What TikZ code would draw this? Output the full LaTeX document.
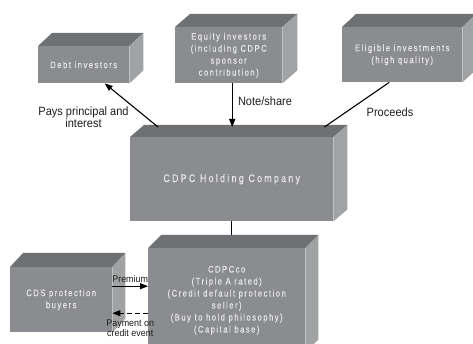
\documentclass[tikz,border=0pt]{standalone}
\usepackage{fontspec}
\setmainfont{Liberation Sans}
\newfontfamily\boxfont[FakeStretch=0.8,LetterSpace=16,FakeBold=0.3]{Liberation Sans}
\newfontfamily\bigboxfont[FakeStretch=0.8,LetterSpace=21,FakeBold=0.3]{Liberation Sans}
\newfontfamily\labfont[FakeStretch=0.92]{Liberation Sans}
\usetikzlibrary{arrows.meta}
\definecolor{frontc}{RGB}{139,140,143}
\definecolor{topc}{RGB}{111,112,115}
\definecolor{sidec}{RGB}{161,162,164}
\definecolor{boxtext}{RGB}{232,232,232}
\definecolor{labtext}{RGB}{30,30,30}
\tikzset{
  front/.style={fill=frontc, inner sep=0pt, align=center, text=boxtext,
    font=\boxfont\fontsize{9.5}{12}\selectfont},
  lab/.style={text=labtext, align=center, inner sep=0pt,
    font=\labfont\fontsize{12}{12}\selectfont},
  smalllab/.style={text=labtext, align=center, inner sep=0pt,
    font=\labfont\fontsize{9.7}{10}\selectfont},
  conn/.style={line width=1.1pt, draw=black},
  tip/.style={-{Triangle[length=8pt,width=6pt]}},
}
\newcommand\cuboid[8]{%
  \node[front, anchor=north west, minimum width=#4pt, minimum height=#5pt] (#1) at (#2,#3) {#8};
  \fill[topc] (#1.north west) -- (#1.north east) -- ++(#6,-#7)
     -- ([shift={(#6,-#7)}]#1.north west) -- cycle;
  \fill[sidec] (#1.north east) -- ++(#6,-#7)
     -- ([shift={(#6,-#7)}]#1.south east) -- (#1.south east) -- cycle;
}
\begin{document}
\begin{tikzpicture}[x=1pt,y=-1pt]
\useasboundingbox[fill=white] (0,0) rectangle (473,344);
% boxes
\cuboid{debt}{38}{46}{91}{37}{14}{13}{Debt investors}
\cuboid{eq}{175}{27}{107}{56}{15}{13}{Equity investors\\(including CDPC\\sponsor\\contribution)}
\cuboid{elig}{342}{27}{120}{55}{14}{13}{Eligible investments\\(high quality)}
\cuboid{hold}{130}{137}{203}{84}{14}{12}{\bigboxfont\fontsize{11}{13}\selectfont CDPC Holding Company}
\cuboid{cdpc}{148}{248}{157}{104}{13}{13}{\fontsize{9.5}{11.7}\selectfont CDPCco\\(Triple A rated)\\(Credit default protection\\seller)\\(Buy to hold philosophy)\\(Capital base)}
\cuboid{cds}{10}{267}{102}{65}{13}{14}{\fontsize{9.5}{11.5}\selectfont CDS protection\\buyers}
% connector points
\coordinate (holdA) at ([shift={(28,-10)}]hold.north west);
\coordinate (debtT) at ([xshift=21pt]debt.south);
\coordinate (eqB) at ([xshift=3.5pt]eq.south);
\coordinate (holdB) at (eqB |- holdA);
\coordinate (eligB) at ([xshift=-13pt]elig.south);
\coordinate (holdC) at ([shift={(-9,-10)}]hold.north east);
\coordinate (cdpcTop) at ([yshift=13pt]cdpc.north);
\coordinate (premA) at ([yshift=13.5pt]cds.east);
\coordinate (payA) at ([yshift=-13.5pt]cds.east);
% connectors
\draw[conn, tip] (holdA) -- (debtT);
\draw[conn, tip] (eqB) -- (holdB);
\draw[conn] (eligB) -- (holdC);
\draw[conn] (hold.south) -- (hold.south |- cdpcTop);
\draw[conn, tip] (premA) -- node[smalllab, above=3pt] {Premium} (premA -| cdpc.west);
\draw[conn, tip, dashed, dash pattern=on 5pt off 3pt] (payA -| cdpc.west) -- node[smalllab, below=6.5pt] {Payment on\\credit event} (payA);
% labels
\node[lab] (lpays) at (83.5,117) {Pays principal and\\interest};
\node[lab] (lnote) at (265,101) {Note/share};
\node[lab] (lproc) at (390,112) {Proceeds};
\end{tikzpicture}
\end{document}
